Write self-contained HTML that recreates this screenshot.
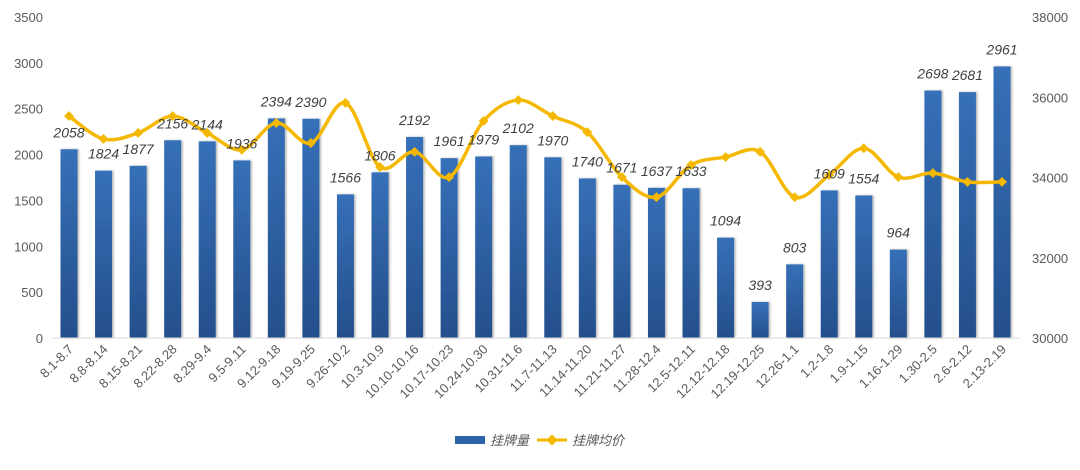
<!DOCTYPE html>
<html><head><meta charset="utf-8"><style>
body{margin:0;background:#fff;}
svg text{font-family:"Liberation Sans","Noto Sans CJK SC",sans-serif;}
</style></head><body>
<svg id="c" width="1080" height="465" viewBox="0 0 1080 465">
<defs>
<linearGradient id="bg" x1="0" y1="0" x2="0" y2="1"><stop offset="0" stop-color="#3670b8"/><stop offset="1" stop-color="#244f8c"/></linearGradient>
<filter id="sh" x="-30%" y="-5%" width="160%" height="110%"><feDropShadow dx="1.5" dy="0" stdDeviation="1" flood-color="#000" flood-opacity="0.3"/></filter>
</defs>
<g id="bars"></g><g id="axes"></g><g id="line"></g><g id="labels"></g>
<g>
<rect x="455" y="436" width="30" height="8" fill="#2f63a8"/>
<text x="490" y="445" font-size="13" font-style="italic" fill="#595959">挂牌量</text>
<line x1="537" y1="440" x2="567" y2="440" stroke="#f5b800" stroke-width="3"/>
<rect x="548" y="436" width="8" height="8" fill="#f5b800" transform="rotate(45 552 440)"/>
<text x="572" y="445" font-size="13" font-style="italic" fill="#595959">挂牌均价</text>
</g>
</svg>
<script>
const categories=["8.1-8.7","8.8-8.14","8.15-8.21","8.22-8.28","8.29-9.4","9.5-9.11","9.12-9.18","9.19-9.25","9.26-10.2","10.3-10.9","10.10-10.16","10.17-10.23","10.24-10.30","10.31-11.6","11.7-11.13","11.14-11.20","11.21-11.27","11.28-12.4","12.5-12.11","12.12-12.18","12.19-12.25","12.26-1.1","1.2-1.8","1.9-1.15","1.16-1.29","1.30-2.5","2.6-2.12","2.13-2.19"];
const volume=[2058,1824,1877,2156,2144,1936,2394,2390,1566,1806,2192,1961,1979,2102,1970,1740,1671,1637,1633,1094,393,803,1609,1554,964,2698,2681,2961];
const avgPrice=[35530,34960,35110,35530,35110,34690,35360,34860,35860,34260,34640,34010,35410,35930,35530,35130,34010,33510,34310,34510,34640,33510,34060,34730,34010,34110,33890,33890];
const leftTicks=[0,500,1000,1500,2000,2500,3000,3500];
const rightTicks=[30000,32000,34000,36000,38000];
const NS="http://www.w3.org/2000/svg";
const y0=338,yT=17,x0=69,x1=1002;
const yL=v=>y0-(v/3500)*(y0-yT);
const yR=v=>y0-((v-30000)/8000)*(y0-yT);
const xC=i=>x0+i*(x1-x0)/(categories.length-1);
function mk(tag,attrs,parent,txt){const e=document.createElementNS(NS,tag);for(const k in attrs)e.setAttribute(k,attrs[k]);if(txt!==undefined)e.textContent=txt;parent.appendChild(e);return e;}
const gA=document.getElementById('axes'),gB=document.getElementById('bars'),gLn=document.getElementById('line'),gLb=document.getElementById('labels');
const ax=mk('line',{x1:52,x2:1020,y1:y0,y2:y0,stroke:'#d9d9d9','stroke-width':1},gA);


leftTicks.forEach(t=>{const e=mk('text',{x:43,y:yL(t)+5,'text-anchor':'end','font-size':13,fill:'#595959'},gA,String(t));

});
rightTicks.forEach(t=>{const e=mk('text',{x:1032,y:yR(t)+5,'font-size':13,fill:'#595959'},gA,String(t));

});
categories.forEach((c,i)=>{const x=xC(i);const e=mk('text',{x:x+5,y:y0+12,'text-anchor':'end','font-size':13,fill:'#595959',transform:`rotate(-45 ${x+5} ${y0+12})`},gA,c);

});
volume.forEach((v,i)=>{const x=xC(i);const r=mk('rect',{x:x-8.5,y:yL(v),width:17,height:y0-yL(v),fill:'url(#bg)',filter:'url(#sh)'},gB);


const t=mk('text',{x:x,y:yL(v)-12,'text-anchor':'middle','font-size':14,'font-style':'italic',fill:'#404040'},gLb,String(v));

});
const pts=avgPrice.map((v,i)=>[xC(i),yR(v)]);
let d=`M${pts[0][0]},${pts[0][1]}`;
for(let i=0;i<pts.length-1;i++){const p0=pts[Math.max(0,i-1)],p1=pts[i],p2=pts[i+1],p3=pts[Math.min(pts.length-1,i+2)];
const c1=[p1[0]+(p2[0]-p0[0])/6,p1[1]+(p2[1]-p0[1])/6],c2=[p2[0]-(p3[0]-p1[0])/6,p2[1]-(p3[1]-p1[1])/6];
d+=` C${c1[0]},${c1[1]} ${c2[0]},${c2[1]} ${p2[0]},${p2[1]}`;}
const pl=mk('path',{d:d,fill:'none',stroke:'#f5b800','stroke-width':3.5},gLn);


pts.forEach((p,i)=>{const m=mk('rect',{x:p[0]-3.5,y:p[1]-3.5,width:7,height:7,fill:'#f5b800',transform:`rotate(45 ${p[0]} ${p[1]})`},gLn);

});
</script>
</body></html>
